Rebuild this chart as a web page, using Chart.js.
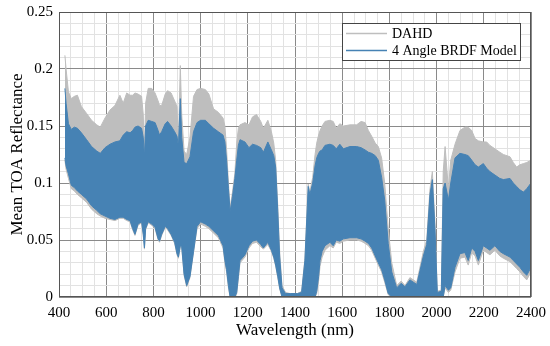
<!DOCTYPE html>
<html>
<head>
<meta charset="utf-8">
<script src="https://cdn.jsdelivr.net/npm/chart.js@4.4.1/dist/chart.umd.min.js"></script>
<style>
html,body{margin:0;padding:0;background:#fff;}
canvas{display:block;}
</style>
</head>
<body>
<canvas id="c" width="550" height="346"></canvas>
<script>
// Wavelengths (nm)
const wavelengths = [
  425,430,440,452,465,478,495,517,538,560,
  575,595,616,637,658,672,687,701,712,722,
  735,750,757,762,767,778,793,807,820,826,
  835,850,860,875,890,900,906,914,920,930,
  941,955,970,985,1000,1020,1035,1055,1075,1095,
  1103,1110,1118,1125,1135,1145,1153,1160,1167,1188,
  1205,1220,1237,1255,1266,1285,1300,1310,1318,1327,
  1335,1345,1360,1380,1410,1428,1442,1456,1463,1475,
  1485,1492,1500,1506,1515,1527,1548,1562,1575,1590,
  1605,1633,1661,1680,1697,1711,1725,1740,1753,1767,
  1780,1795,1810,1831,1850,1866,1887,1916,1944,1958,
  1972,1982,1993,2003,2020,2028,2036,2050,2060,2078,
  2099,2120,2134,2149,2163,2177,2198,2212,2226,2247,
  2268,2283,2311,2325,2339,2353,2368,2382,2400
];
// DAHD upper envelope
const dahdHigh = [
  .212,.200,.180,.174,.176,.177,.167,.161,.155,.151,
  .149,.157,.164,.168,.177,.170,.179,.177,.177,.179,
  .178,.176,.160,.124,.170,.183,.183,.179,.172,.168,
  .168,.178,.181,.179,.172,.167,.135,.203,.160,.128,
  .125,.140,.176,.182,.183,.182,.178,.165,.162,.157,
  .150,.130,.100,.078,.092,.108,.135,.148,.151,.153,
  .151,.158,.160,.154,.148,.155,.145,.135,.120,.080,
  .040,.010,.004,.003,.003,.005,.034,.099,.092,.105,
  .125,.135,.142,.146,.150,.154,.155,.154,.148,.152,
  .150,.151,.151,.154,.153,.146,.141,.135,.132,.122,
  .100,.060,.030,.010,.014,.010,.017,.013,.040,.050,
  .095,.110,.065,.005,.006,.110,.132,.095,.120,.134,
  .146,.149,.149,.146,.139,.137,.136,.136,.133,.130,
  .127,.125,.123,.118,.114,.116,.117,.118,.120
];
// 4 Angle BRDF Model upper envelope
const brdfHigh = [
  .183,.170,.152,.147,.149,.148,.144,.138,.132,.128,
  .126,.131,.134,.136,.137,.142,.145,.144,.146,.149,
  .150,.148,.140,.123,.150,.155,.154,.153,.146,.142,
  .145,.152,.154,.150,.145,.141,.132,.174,.140,.118,
  .117,.123,.145,.153,.155,.155,.152,.148,.145,.142,
  .136,.120,.095,.075,.088,.104,.120,.133,.138,.136,
  .131,.134,.133,.131,.127,.136,.129,.124,.114,.075,
  .035,.008,.003,.003,.003,.004,.032,.097,.090,.100,
  .115,.122,.126,.128,.129,.133,.134,.133,.130,.134,
  .130,.132,.132,.131,.129,.127,.126,.124,.120,.105,
  .085,.047,.022,.008,.012,.009,.015,.011,.036,.046,
  .090,.103,.060,.004,.005,.095,.100,.085,.100,.122,
  .126,.125,.124,.120,.116,.114,.117,.113,.110,.107,
  .104,.103,.104,.100,.097,.094,.092,.095,.100
];
// 4 Angle BRDF Model lower envelope
const brdfLow = [
  .122,.115,.108,.098,.096,.093,.090,.086,.080,.076,
  .073,.071,.069,.068,.070,.070,.068,.067,.060,.055,
  .064,.066,.055,.043,.060,.066,.064,.061,.051,.049,
  .055,.062,.060,.055,.048,.038,.035,.045,.044,.020,
  .010,.018,.040,.062,.066,.064,.062,.058,.054,.045,
  .032,.024,.010,.000,.000,.000,.004,.018,.032,.037,
  .045,.049,.050,.046,.043,.048,.041,.035,.028,.018,
  .008,0,0,0,0,0,0,0,0,0,
  0,.005,.018,.032,.040,.045,.048,.045,.050,.049,
  .051,.052,.052,.051,.049,.047,.043,.036,.030,.024,
  .015,.003,0,0,0,0,0,0,0,0,
  0,0,0,0,0,0,.010,.006,.008,.026,
  .038,.039,.032,.043,.040,.032,.045,.043,.041,.045,
  .040,.038,.035,.032,.029,.026,.022,.019,.026
];
// DAHD lower envelope
const dahdLow = [
  .120,.112,.104,.095,.093,.090,.087,.083,.077,.073,
  .071,.069,.068,.067,.069,.069,.067,.066,.059,.054,
  .063,.065,.054,.042,.059,.065,.063,.060,.050,.048,
  .054,.061,.059,.054,.047,.037,.034,.044,.043,.019,
  .009,.017,.039,.060,.064,.062,.060,.056,.052,.043,
  .030,.022,.008,.000,.000,.000,.003,.016,.030,.035,
  .043,.047,.048,.044,.042,.046,.040,.034,.027,.017,
  .007,0,0,0,0,0,0,0,0,0,
  0,.003,.014,.027,.035,.041,.045,.043,.048,.047,
  .049,.050,.050,.049,.047,.045,.041,.034,.028,.022,
  .013,.002,0,0,0,0,0,0,0,0,
  0,0,0,0,0,0,.008,.004,.006,.022,
  .034,.035,.028,.039,.036,.028,.041,.039,.037,.041,
  .036,.034,.031,.028,.025,.022,.018,.015,.022
];
const xTickLabels = [400,600,800,1000,1200,1400,1600,1800,2000,2200,2400];
const yTickLabels = [0,0.05,0.1,0.15,0.2,0.25];
const legendLabels = ['DAHD','4 Angle BRDF Model'];

const BLUE = 'rgb(70,130,180)';
const GRAY = 'rgb(190,190,190)';
const SERIF = '"Liberation Serif","Times New Roman",serif';

const pts = arr => wavelengths.map((w,i)=>({x:w,y:arr[i]}));

const framePlugin = {
  id:'frame',
  afterDraw(chart){
    const {ctx, chartArea:a} = chart;
    ctx.save();
    ctx.strokeStyle = '#555';
    ctx.lineWidth = 1;
    ctx.strokeRect(Math.round(a.left)+0.5, Math.round(a.top)+0.5, Math.round(a.right-a.left)-1, Math.round(a.bottom-a.top)-1);
    // legend
    const lx = 342.5, ly = 23.5, lw = 178, lh = 37;
    ctx.fillStyle = '#fff';
    ctx.fillRect(lx, ly, lw, lh);
    ctx.strokeStyle = '#444';
    ctx.strokeRect(lx, ly, lw, lh);
    const colors = [GRAY, BLUE];
    const ys = [33.5, 50.5];
    ctx.font = '14px ' + SERIF;
    ctx.textBaseline = 'middle';
    ctx.textAlign = 'left';
    legendLabels.forEach((t,i)=>{
      ctx.strokeStyle = colors[i];
      ctx.lineWidth = 1.6;
      ctx.beginPath();
      ctx.moveTo(346, ys[i]);
      ctx.lineTo(387, ys[i]);
      ctx.stroke();
      ctx.fillStyle = '#000';
      ctx.fillText(t, 392, ys[i]+0.5);
    });
    ctx.restore();
  }
};

new Chart(document.getElementById('c'), {
  type:'line',
  data:{
    datasets:[
      {label:legendLabels[1], data:pts(brdfHigh), borderColor:BLUE, backgroundColor:BLUE, borderWidth:1, pointRadius:0, fill:'+1'},
      {label:'BRDF low', data:pts(brdfLow), borderColor:BLUE, backgroundColor:BLUE, borderWidth:1, pointRadius:0, fill:false},
      {label:legendLabels[0], data:pts(dahdHigh), borderColor:GRAY, backgroundColor:GRAY, borderWidth:1, pointRadius:0, fill:'+1'},
      {label:'DAHD low', data:pts(dahdLow), borderColor:GRAY, backgroundColor:GRAY, borderWidth:1, pointRadius:0, fill:false}
    ]
  },
  options:{
    responsive:false,
    animation:false,
    devicePixelRatio:1,
    layout:{padding:{left:0,right:19,top:12,bottom:0}},
    plugins:{legend:{display:false}, tooltip:{enabled:false}},
    scales:{
      x:{
        type:'linear', min:400, max:2400,
        border:{display:false},
        grid:{drawTicks:false, lineWidth:1,
          color:c=> (c.tick && xTickLabels.includes(Math.round(c.tick.value))) ? '#8a8a8a' : '#e2e2e2'},
        ticks:{stepSize:50, autoSkip:false, maxRotation:0, padding:7, color:'#000',
          font:{family:SERIF, size:15},
          callback:v=> xTickLabels.includes(Math.round(v)) ? String(Math.round(v)) : ''},
        title:{display:true, text:'Wavelength (nm)', color:'#000', font:{family:SERIF, size:17}, padding:{top:0,bottom:5}},
        afterFit:s=>{s.height = 49; s.paddingLeft = 0; s.paddingRight = 0;}
      },
      y:{
        type:'linear', min:0, max:0.25,
        border:{display:false},
        grid:{drawTicks:false, lineWidth:1,
          color:c=> (c.tick && Math.round(c.tick.value*100)%5===0) ? '#8a8a8a' : '#e2e2e2'},
        ticks:{stepSize:0.01, autoSkip:false, padding:6, color:'#000',
          font:{family:SERIF, size:15},
          callback:v=>{const k=Math.round(v*100); return k%5===0 ? String(k/100) : '';}},
        title:{display:true, text:'Mean TOA Reflectance', color:'#000', font:{family:SERIF, size:17}, padding:{top:7,bottom:0}},
        afterFit:s=>{s.width = 59; s.paddingTop = 0; s.paddingBottom = 0;}
      }
    }
  },
  plugins:[framePlugin]
});
</script>
</body>
</html>
